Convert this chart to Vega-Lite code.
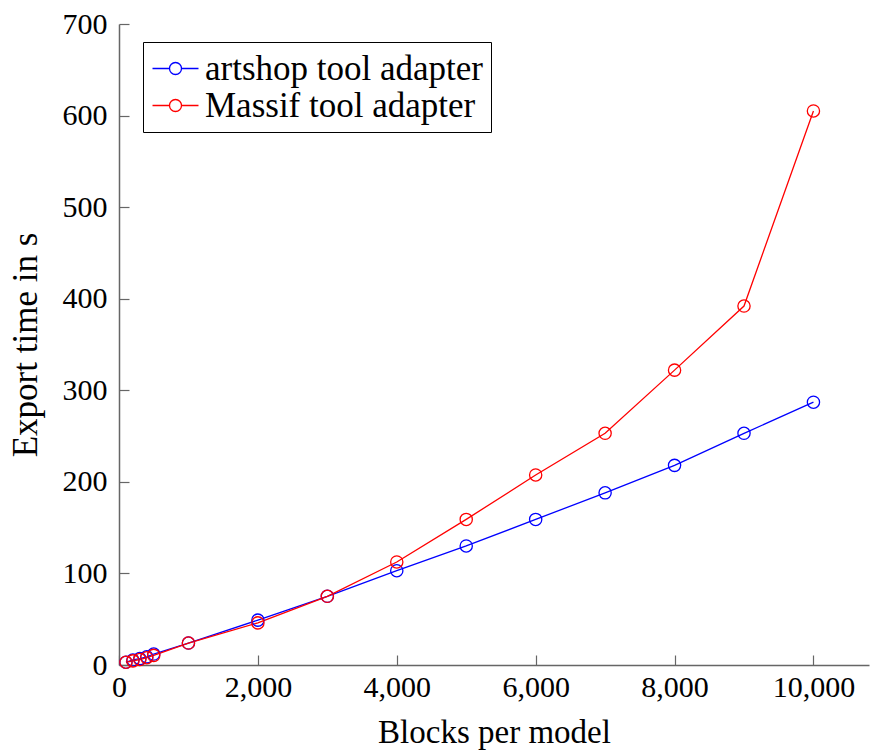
{
  "$schema": "https://vega.github.io/schema/vega-lite/v6.json",
  "width": 750,
  "height": 641,
  "autosize": {"type": "none"},
  "padding": {"left": 119, "top": 24, "right": 2, "bottom": 86},
  "background": "white",
  "config": {
    "view": {"stroke": null},
    "font": "Liberation Serif",
    "axis": {
      "grid": false,
      "domainColor": "#666",
      "domainWidth": 1.5,
      "tickColor": "#666",
      "tickWidth": 1.2,
      "tickSize": -10,
      "labelFont": "Liberation Serif",
      "labelFontSize": 30,
      "labelColor": "black",
      "titleFont": "Liberation Serif",
      "titleFontWeight": "normal",
      "titleColor": "black"
    }
  },
  "data": {
    "values": [
      {"blocks": 100, "time": 3, "tool": "artshop tool adapter"},
      {"blocks": 200, "time": 5.5, "tool": "artshop tool adapter"},
      {"blocks": 300, "time": 7, "tool": "artshop tool adapter"},
      {"blocks": 400, "time": 9, "tool": "artshop tool adapter"},
      {"blocks": 500, "time": 12, "tool": "artshop tool adapter"},
      {"blocks": 1000, "time": 24, "tool": "artshop tool adapter"},
      {"blocks": 2000, "time": 49, "tool": "artshop tool adapter"},
      {"blocks": 3000, "time": 75, "tool": "artshop tool adapter"},
      {"blocks": 4000, "time": 103, "tool": "artshop tool adapter"},
      {"blocks": 5000, "time": 130, "tool": "artshop tool adapter"},
      {"blocks": 6000, "time": 159, "tool": "artshop tool adapter"},
      {"blocks": 7000, "time": 188, "tool": "artshop tool adapter"},
      {"blocks": 8000, "time": 218, "tool": "artshop tool adapter"},
      {"blocks": 9000, "time": 253, "tool": "artshop tool adapter"},
      {"blocks": 10000, "time": 287, "tool": "artshop tool adapter"},
      {"blocks": 100, "time": 3, "tool": "Massif tool adapter"},
      {"blocks": 200, "time": 4.5, "tool": "Massif tool adapter"},
      {"blocks": 300, "time": 6, "tool": "Massif tool adapter"},
      {"blocks": 400, "time": 8, "tool": "Massif tool adapter"},
      {"blocks": 500, "time": 10.5, "tool": "Massif tool adapter"},
      {"blocks": 1000, "time": 24, "tool": "Massif tool adapter"},
      {"blocks": 2000, "time": 46, "tool": "Massif tool adapter"},
      {"blocks": 3000, "time": 75, "tool": "Massif tool adapter"},
      {"blocks": 4000, "time": 112.5, "tool": "Massif tool adapter"},
      {"blocks": 5000, "time": 159, "tool": "Massif tool adapter"},
      {"blocks": 6000, "time": 207.5, "tool": "Massif tool adapter"},
      {"blocks": 7000, "time": 253, "tool": "Massif tool adapter"},
      {"blocks": 8000, "time": 322, "tool": "Massif tool adapter"},
      {"blocks": 9000, "time": 392, "tool": "Massif tool adapter"},
      {"blocks": 10000, "time": 605, "tool": "Massif tool adapter"}
    ]
  },
  "encoding": {
    "x": {
      "field": "blocks",
      "type": "quantitative",
      "title": "Blocks per model",
      "scale": {"domain": [0, 10800], "nice": false, "zero": false},
      "axis": {
        "values": [0, 2000, 4000, 6000, 8000, 10000],
        "format": ",d",
        "labelPadding": 17,
        "titleFontSize": 33,
        "titlePadding": 14,
        "labelFlush": false
      }
    },
    "y": {
      "field": "time",
      "type": "quantitative",
      "title": "Export time in s",
      "scale": {"domain": [0, 700], "nice": false},
      "axis": {
        "values": [0, 100, 200, 300, 400, 500, 600, 700],
        "labelPadding": 22,
        "titleFontSize": 35,
        "titlePadding": 19,
        "labelFlush": false
      }
    },
    "color": {
      "field": "tool",
      "type": "nominal",
      "scale": {
        "domain": ["artshop tool adapter", "Massif tool adapter"],
        "range": ["#0000ff", "#ff0000"]
      },
      "legend": {
        "title": null,
        "orient": "none",
        "legendX": 24,
        "legendY": 18,
        "direction": "vertical",
        "strokeColor": "black",
        "fillColor": "white",
        "padding": 8,
        "labelFont": "Liberation Serif",
        "labelFontSize": 35,
        "labelLimit": 500,
        "labelColor": "black",
        "labelOffset": 11,
        "rowPadding": 0,
        "symbolOffset": 6,
        "symbolType": "M-1.314,0H-0.343M0.343,0H1.314M0.343,0A0.343,0.343,0,1,1,-0.343,0A0.343,0.343,0,1,1,0.343,0",
        "symbolSize": 1225,
        "symbolStrokeWidth": 1.3,
        "symbolFillColor": "transparent"
      }
    }
  },
  "layer": [
    {"mark": {"type": "line", "strokeWidth": 1.3}},
    {"mark": {"type": "point", "shape": "circle", "filled": false, "size": 150, "strokeWidth": 1.3, "opacity": 1}}
  ]
}
